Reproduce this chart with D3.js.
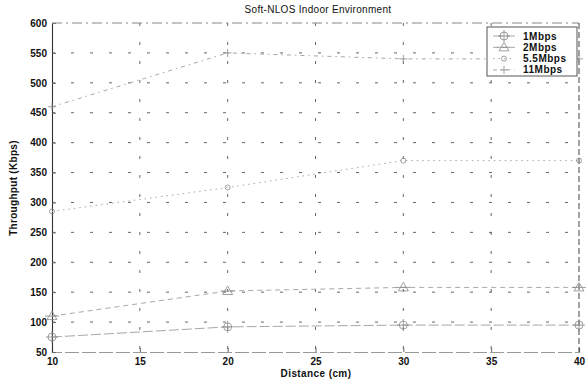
<!DOCTYPE html>
<html>
<head>
<meta charset="utf-8">
<script src="https://cdn.jsdelivr.net/npm/d3@7"></script>
<style>
  html, body { margin: 0; padding: 0; background: #fff; }
  svg { display: block; font-family: "Liberation Sans", Arial, sans-serif; }
</style>
</head>
<body>
<svg id="chart" width="586" height="383"></svg>
<script>
// Measured throughput against distance, one series per link rate
const distances = [10, 20, 30, 40];
const seriesNames = ["1Mbps", "2Mbps", "5.5Mbps", "11Mbps"];
const tput1 = [75, 92, 95, 95];
const tput2 = [110, 152, 158, 158];
const tput55 = [285, 325, 370, 370];
const tput11 = [460, 550, 540, 540];
const xTicks = [10, 15, 20, 25, 30, 35, 40];
const yTicks = [50, 100, 150, 200, 250, 300, 350, 400, 450, 500, 550, 600];

const series = [
  { name: seriesNames[0], values: tput1, dash: "10,3", marker: "circleplus" },
  { name: seriesNames[1], values: tput2, dash: "5,4", marker: "triangle" },
  { name: seriesNames[2], values: tput55, dash: "1.5,4", marker: "dot" },
  { name: seriesNames[3], values: tput11, dash: "4,4,1.5,4", marker: "plus" }
];

const svg = d3.select("#chart");
const m = { left: 52, right: 579, top: 23, bottom: 352 };

const x = d3.scaleLinear().domain([10, 40]).range([m.left, m.right]);
const y = d3.scaleLinear().domain([50, 600]).range([m.bottom, m.top]);

// dashed grid
const grid = svg.append("g").attr("stroke", "#555").attr("stroke-width", 0.9)
  .attr("stroke-dasharray", "3,16");
grid.selectAll("line.gx").data(xTicks.slice(1, -1)).join("line")
  .attr("x1", d => x(d)).attr("x2", d => x(d))
  .attr("y1", m.top).attr("y2", m.bottom);
grid.selectAll("line.gy").data(yTicks.slice(1, -1)).join("line")
  .attr("x1", m.left).attr("x2", m.right)
  .attr("y1", d => y(d)).attr("y2", d => y(d));

// axes with inward ticks
const xAxis = svg.append("g").attr("transform", `translate(0,${m.bottom})`)
  .call(d3.axisBottom(x).tickValues(xTicks).tickSize(-4).tickPadding(6).tickFormat(d3.format("d")));
const yAxis = svg.append("g").attr("transform", `translate(${m.left},0)`)
  .call(d3.axisLeft(y).tickValues(yTicks).tickSize(-4).tickPadding(5).tickFormat(d3.format("d")));
[xAxis, yAxis].forEach(a => {
  a.selectAll("text").attr("font-size", 10).attr("font-weight", "bold").attr("fill", "#111");
  a.selectAll(".tick line").attr("stroke", "#666");
});
xAxis.select(".domain").attr("stroke", "#999").attr("stroke-width", 1.2).attr("stroke-dasharray", "14,3");
yAxis.select(".domain").attr("stroke", "#333").attr("stroke-width", 1.1);

// box: top and right edges
svg.append("line").attr("x1", m.left).attr("x2", m.right).attr("y1", m.top).attr("y2", m.top)
  .attr("stroke", "#888").attr("stroke-width", 1).attr("stroke-dasharray", "10,4,2,4");
svg.append("line").attr("x1", m.right).attr("x2", m.right).attr("y1", m.top).attr("y2", m.bottom)
  .attr("stroke", "#444").attr("stroke-width", 1).attr("stroke-dasharray", "6,3");

// series lines
const line = d3.line().x((d, i) => x(distances[i])).y(d => y(d));
const lines = svg.append("g");
series.forEach(s => {
  lines.append("path").datum(s.values)
    .attr("d", line)
    .attr("fill", "none")
    .attr("stroke", "#a8a8a8")
    .attr("stroke-width", 1)
    .attr("stroke-dasharray", s.dash);
});

function drawMarker(g, type, cx, cy) {
  const st = { stroke: "#888", "stroke-width": 0.8, fill: "none" };
  const apply = sel => { Object.entries(st).forEach(([k, v]) => sel.attr(k, v)); return sel; };
  if (type === "circleplus") {
    apply(g.append("circle").attr("cx", cx).attr("cy", cy).attr("r", 4));
    apply(g.append("path").attr("d", `M${cx - 6},${cy}H${cx + 6}M${cx},${cy - 6}V${cy + 6}`));
  } else if (type === "triangle") {
    apply(g.append("path").attr("d", `M${cx},${cy - 5}L${cx + 5},${cy + 3.5}L${cx - 5},${cy + 3.5}Z`));
    apply(g.append("path").attr("d", `M${cx - 7},${cy}H${cx + 7}`));
  } else if (type === "plus") {
    apply(g.append("path").attr("d", `M${cx - 4},${cy}H${cx + 4}M${cx},${cy - 4}V${cy + 4}`));
  } else {
    apply(g.append("circle").attr("cx", cx).attr("cy", cy).attr("r", 2.5));
  }
}

const marks = svg.append("g");
series.forEach(s => {
  s.values.forEach((v, i) => drawMarker(marks, s.marker, x(distances[i]), y(v)));
});

// title and axis labels
svg.append("text").attr("x", 318).attr("y", 13).attr("text-anchor", "middle")
  .attr("font-size", 10).attr("letter-spacing", 0.3).attr("fill", "#111").text("Soft-NLOS Indoor Environment");
svg.append("text").attr("x", 316).attr("y", 377).attr("text-anchor", "middle")
  .attr("font-size", 10).attr("font-weight", "bold").attr("letter-spacing", 0.4).attr("fill", "#111").text("Distance (cm)");
svg.append("text").attr("transform", "translate(17,188) rotate(-90)").attr("text-anchor", "middle")
  .attr("font-size", 10).attr("font-weight", "bold").attr("letter-spacing", 0.3).attr("fill", "#111").text("Throughput (Kbps)");

// legend
const lg = svg.append("g").attr("transform", "translate(487,27)");
lg.append("rect").attr("width", 90).attr("height", 49).attr("fill", "#fff")
  .attr("stroke", "#555").attr("stroke-width", 1);
series.forEach((s, i) => {
  const yy = 9 + i * 11.3;
  lg.append("line").attr("x1", 6).attr("x2", 28).attr("y1", yy).attr("y2", yy)
    .attr("stroke", "#a8a8a8").attr("stroke-width", 1).attr("stroke-dasharray", s.dash);
  drawMarker(lg, s.marker, 17, yy);
  lg.append("text").attr("x", 36).attr("y", yy + 3.5).attr("font-size", 10)
    .attr("font-weight", "bold").attr("letter-spacing", 0.5).attr("fill", "#111").text(s.name);
});
</script>
</body>
</html>
